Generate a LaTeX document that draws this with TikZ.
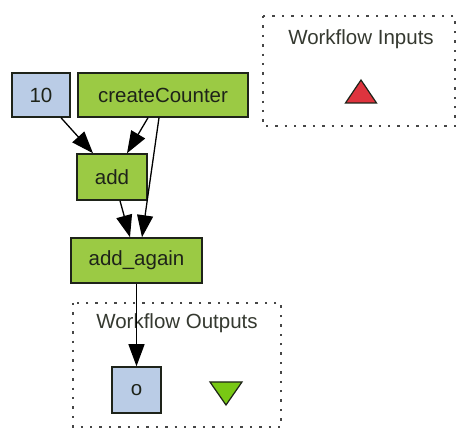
\documentclass[tikz,border=0pt]{standalone}
\usepackage{fontspec}
\setmainfont{Liberation Sans}
\usetikzlibrary{arrows.meta,calc}
\definecolor{procgreen}{RGB}{155,202,68}
\definecolor{constblue}{RGB}{186,204,230}
\definecolor{portred}{RGB}{222,52,62}
\definecolor{portgreen}{RGB}{120,200,20}
\definecolor{frame}{RGB}{70,70,70}
\definecolor{ink}{RGB}{30,35,25}
\tikzset{
  proc/.style={draw=ink, line width=1.5pt, fill=procgreen, text=ink,
    font=\fontsize{20.5}{24}\selectfont, inner sep=0pt},
  constant/.style={proc, fill=constblue},
  group/.style={draw=frame, line width=2.4pt, dash pattern=on 2.4pt off 7pt},
  grouplabel/.style={text=ink!90, font=\fontsize{20.5}{24}\selectfont},
  flow/.style={draw=black, line width=1.3pt,
    -{Triangle[length=22pt,width=16pt]}},
  port/.style={draw=ink, line width=1.2pt}
}
\begin{document}
\begin{tikzpicture}[x=1pt,y=-1pt]
\useasboundingbox (0,0) rectangle (456,430);

% workflow input / output groups
\draw[group] (263,16) rectangle (455,126);
\node[grouplabel] (inlabel) at (361,39) {Workflow Inputs};
\draw[port, fill=portred] (345.5,103) -- (376.5,103) -- (361,80) -- cycle;

\draw[group] (73,303) rectangle (281,427);
\node[grouplabel] (outlabel) at (177,323) {Workflow Outputs};
\draw[port, fill=portgreen] (210,382) -- (242,382) -- (226,405) -- cycle;

% processors
\node[constant, minimum width=58pt, minimum height=44pt] (ten) at (41,95) {10};
\node[proc, minimum width=170pt, minimum height=44pt] (cc) at (163,95) {createCounter};
\node[proc, minimum width=70pt, minimum height=46pt] (add) at (112,177) {add};
\node[proc, minimum width=131pt, minimum height=45pt] (again) at (136.5,260.5) {add\_again};
\node[constant, minimum width=49pt, minimum height=46pt] (o) at (136.5,390) {o};

% data links
\draw[flow] ([xshift=20pt]ten.south) -- ([xshift=-19pt]add.north);
\draw[flow] ([xshift=-15pt]cc.south) -- ([xshift=15pt]add.north);
\draw[flow] ([xshift=-4pt]cc.south) -- ([xshift=5.5pt]again.north);
\draw[flow] ([xshift=8pt]add.south) -- ([xshift=-6.5pt]again.north);
\draw[flow] (again.south) -- (o.north);
\end{tikzpicture}
\end{document}
